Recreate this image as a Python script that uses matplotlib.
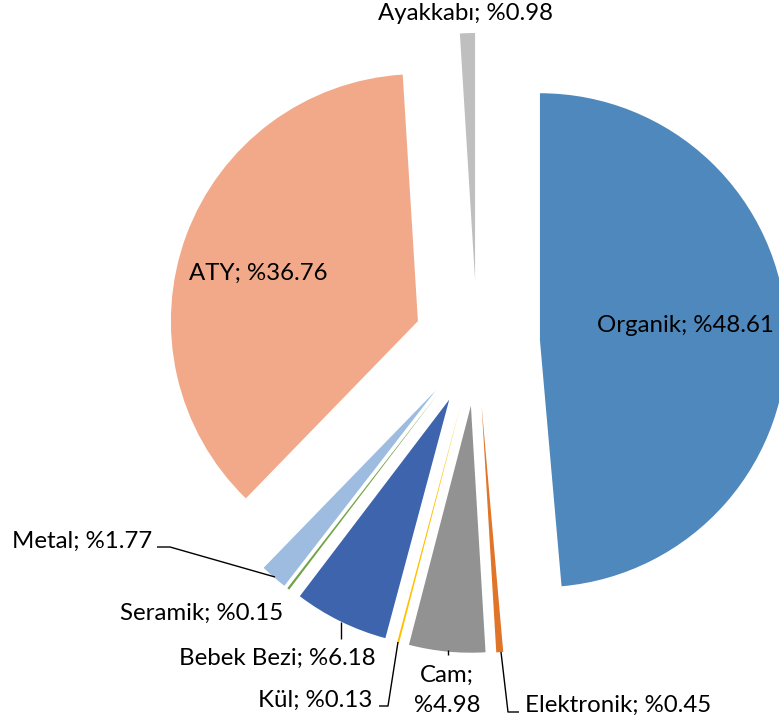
import matplotlib
matplotlib.use("Agg")
import matplotlib.pyplot as plt

categories = ["Organik", "Elektronik", "Cam", "Kül", "Bebek Bezi", "Seramik", "Metal", "ATY", "Ayakkabı"]
values = [48.61, 0.45, 4.98, 0.13, 6.18, 0.15, 1.77, 36.76, 0.98]
colors = ["#4F88BC", "#E07529", "#929292", "#FFC000", "#3D64AD", "#70A246", "#9DBCE0", "#F1A98A", "#BFBFBF"]

W, H = 779, 726
fig = plt.figure(figsize=(W / 100, H / 100), dpi=100)
ax = fig.add_axes([0, 0, 1, 1])

def Y(v):
    return H - v

ax.pie(values, colors=colors, startangle=90, counterclock=False,
       radius=247, center=(477, Y(343)), explode=[63] * len(values),
       wedgeprops=dict(linewidth=0))
ax.set_xlim(0, W)
ax.set_ylim(0, H)
ax.set_aspect("equal")
ax.axis("off")

font = dict(family=["Lato", "DejaVu Sans"], fontsize=17.3, color="black")

def lab(i):
    return f"{categories[i]}; %{values[i]:.2f}"

# labels
ax.text(597, Y(325), lab(0), ha="left", va="center", **font)
ax.text(525, Y(705), lab(1), ha="left", va="center", **font)
ax.text(447, Y(675), f"{categories[2]};", ha="center", va="center", **font)
ax.text(447, Y(705), f"%{values[2]:.2f}", ha="center", va="center", **font)
ax.text(372, Y(700), lab(3), ha="right", va="center", **font)
ax.text(376, Y(658), lab(4), ha="right", va="center", **font)
ax.text(283, Y(613), lab(5), ha="right", va="center", **font)
ax.text(152, Y(541), lab(6), ha="right", va="center", **font)
ax.text(258, Y(273), lab(7), ha="center", va="center", **font)
ax.text(466, Y(13), lab(8), ha="center", va="center", **font)

lk = dict(color="black", lw=1.0, solid_capstyle="butt")
# leader lines
ax.plot([157, 170, 275], [Y(547), Y(547), Y(577)], **lk)
ax.plot([341, 341], [Y(622), Y(639)], **lk)
ax.plot([379, 388, 398], [Y(706), Y(706), Y(642)], **lk)
ax.plot([448, 448], [Y(650), Y(655)], **lk)
ax.plot([501, 508, 519], [Y(652), Y(712), Y(712)], **lk)

fig.savefig("out.png", dpi=100)
